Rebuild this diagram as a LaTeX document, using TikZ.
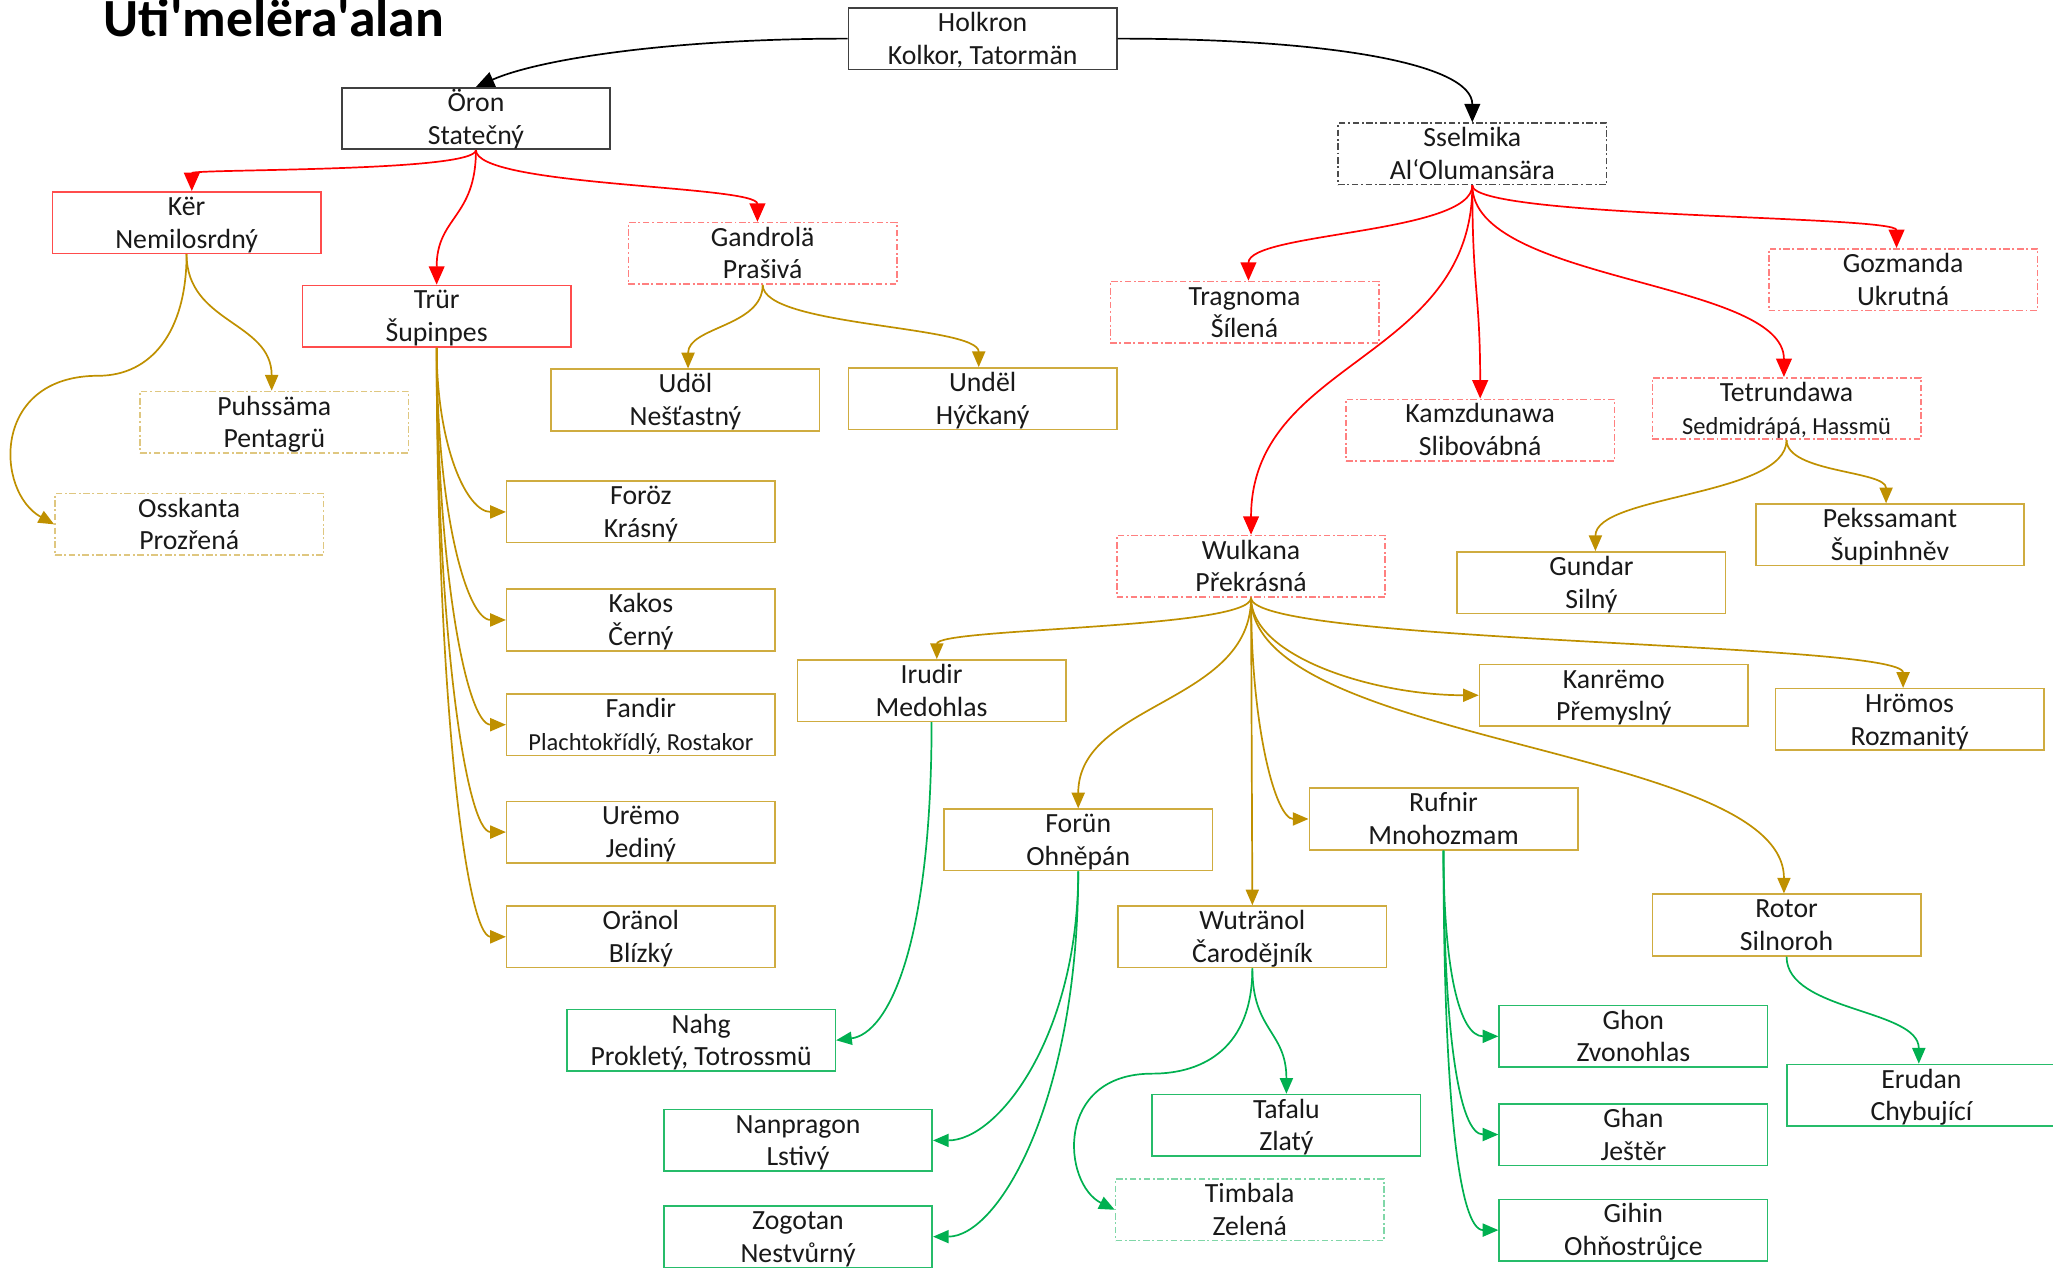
\documentclass[tikz,border=0pt]{standalone}
\usepackage{fontspec}
\setmainfont{Carlito}
\newfontfamily\titlefont{Carlito}
\usetikzlibrary{arrows.meta}
\definecolor{gold}{HTML}{BF9000}
\definecolor{grn}{HTML}{00B050}
\definecolor{rd}{HTML}{FF0000}
\newcommand\tl[2]{\rule{0pt}{20pt}#1\\#2\rule[-6pt]{0pt}{0pt}}
\newcommand\sm{\fontsize{18.7}{25}\selectfont}
\begin{document}
\begin{tikzpicture}[x=1pt,y=-1pt,
  box/.style={draw, rectangle, minimum width=205pt, minimum height=47pt, inner xsep=0pt, inner ysep=-3pt,
    align=center, line width=1.2pt, text=black!90, font=\fontsize{21.2}{25}\selectfont},
  dd/.style={dash pattern=on 5pt off 2pt on 1.5pt off 2pt},
  kbox/.style={box, draw=black!75},
  kdbox/.style={box, draw=black!70, dd},
  rbox/.style={box, draw=rd!70},
  rdbox/.style={box, draw=rd!50, dd},
  obox/.style={box, draw=gold!75},
  odbox/.style={box, draw=gold!50, dd},
  gbox/.style={box, draw=grn!85},
  gdbox/.style={box, draw=grn!50, dd},
  kline/.style={draw=black, line width=1.3pt, -{Triangle[length=14pt,width=12pt]}},
  rline/.style={draw=rd, line width=1.3pt, -{Triangle[length=14pt,width=12pt]}},
  oline/.style={draw=gold, line width=1.3pt, -{Triangle[length=12pt,width=10pt]}},
  gline/.style={draw=grn, line width=1.3pt, -{Triangle[length=12pt,width=10pt]}},
]
\useasboundingbox (0,0) rectangle (1568,968);

\node[anchor=base west, inner sep=0pt, font=\titlefont\bfseries\fontsize{41}{41}\selectfont] (title) at (79,28) {Uti'melëra'alan};

\node[kbox] (holk) at (750.5,29.5) {\tl{Holkron}{Kolkor, Tatormän}};
\node[kbox] (oron) at (363.5,90.5) {\tl{Öron}{Statečný}};
\node[kdbox] (ssel) at (1124.5,117.5) {\tl{Sselmika}{Al‘Olumansära}};
\node[rbox] (ker) at (142.5,170) {\tl{Kër}{Nemilosrdný}};
\node[rbox] (trur) at (333.5,241.5) {\tl{Trür}{Šupinpes}};
\node[rdbox] (gand) at (582.5,193.5) {\tl{Gandrolä}{Prašivá}};
\node[odbox] (puhs) at (209.5,322.5) {\tl{Puhssäma}{Pentagrü}};
\node[odbox] (ossk) at (144.5,400.5) {\tl{Osskanta}{Prozřená}};
\node[obox] (udol) at (523.5,305.5) {\tl{Udöl}{Nešťastný}};
\node[obox] (undel) at (750.5,304.5) {\tl{Undël}{Hýčkaný}};
\node[obox] (foroz) at (489.5,391) {\tl{Foröz}{Krásný}};
\node[obox] (kakos) at (489.5,473.5) {\tl{Kakos}{Černý}};
\node[obox] (fandir) at (489.5,553.5) {\tl{Fandir}{\sm Plachtokřídlý, Rostakor}};
\node[obox] (uremo) at (489.5,635.5) {\tl{Urëmo}{Jediný}};
\node[obox] (oranol) at (489.5,715.5) {\tl{Oränol}{Blízký}};
\node[rdbox] (trag) at (950.5,238.5) {\tl{Tragnoma}{Šílená}};
\node[rdbox] (gozm) at (1453.5,213.5) {\tl{Gozmanda}{Ukrutná}};
\node[rdbox] (kamz) at (1130.5,328.5) {\tl{Kamzdunawa}{Slibovábná}};
\node[rdbox] (tetr) at (1364.5,312) {\tl{Tetrundawa}{\sm Sedmidrápá, Hassmü}};
\node[rdbox] (wulk) at (955.5,432.5) {\tl{Wulkana}{Překrásná}};
\node[obox] (gund) at (1215.5,445) {\tl{Gundar}{Silný}};
\node[obox] (peks) at (1443.5,408.5) {\tl{Pekssamant}{Šupinhněv}};
\node[obox] (irud) at (711.5,527.5) {\tl{Irudir}{Medohlas}};
\node[obox] (kanr) at (1232.5,531) {\tl{Kanrëmo}{Přemyslný}};
\node[obox] (hrom) at (1458.5,549.5) {\tl{Hrömos}{Rozmanitý}};
\node[obox] (forun) at (823.5,641.5) {\tl{Forün}{Ohněpán}};
\node[obox] (rufn) at (1102.5,625.5) {\tl{Rufnir}{Mnohozmam}};
\node[obox] (wutr) at (956.5,715.5) {\tl{Wutränol}{Čarodějník}};
\node[obox] (rotor) at (1364.5,706.5) {\tl{Rotor}{Silnoroh}};
\node[gbox] (nahg) at (535.5,794.5) {\tl{Nahg}{Prokletý, Totrossmü}};
\node[gbox] (nanp) at (609.5,871) {\tl{Nanpragon}{Lstivý}};
\node[gbox] (zogo) at (609.5,944.5) {\tl{Zogotan}{Nestvůrný}};
\node[gbox] (tafa) at (982.5,859.5) {\tl{Tafalu}{Zlatý}};
\node[gdbox] (timb) at (954.5,924) {\tl{Timbala}{Zelená}};
\node[gbox] (ghon) at (1247.5,791.5) {\tl{Ghon}{Zvonohlas}};
\node[gbox] (ghan) at (1247.5,866.5) {\tl{Ghan}{Ještěr}};
\node[gbox] (gihin) at (1247.5,939.5) {\tl{Gihin}{Ohňostrůjce}};
\node[gbox] (erud) at (1467.5,836.5) {\tl{Erudan}{Chybující}};

% black
\draw[kline] (holk.west) .. controls +(-130,0) and +(50,-22) .. (oron.north);
\draw[kline] (holk.east) .. controls +(160,0) and +(0,-45) .. (ssel.north);
% red from Oron
\draw[rline] (oron.south) .. controls +(0,17) and +(0,-17) .. ([xshift=4pt]ker.north);
\draw[rline] (oron.south) .. controls +(0,52) and +(0,-52) .. (trur.north);
\draw[rline] (oron.south) .. controls +(0,28) and +(0,-28) .. ([xshift=-4pt]gand.north);
% from Ker
\draw[oline] (ker.south) .. controls +(0,53) and +(0,-53) .. ([xshift=-2pt]puhs.north);
\draw[oline] (ker.south) .. controls +(0,60) and +(40,0) .. (75,287) .. controls +(-82,0) and +(-45,-25) .. (ossk.west);
% from Gandrola
\draw[oline] (gand.south) .. controls +(0,32) and +(0,-32) .. ([xshift=2pt]udol.north);
\draw[oline] (gand.south) .. controls +(0,32) and +(0,-32) .. ([xshift=-3pt]undel.north);
% from Trur
\draw[oline] (trur.south) .. controls +(0,75) and +(-30,0) .. (foroz.west);
\draw[oline] (trur.south) .. controls +(0,125) and +(-30,0) .. (kakos.west);
\draw[oline] (trur.south) .. controls +(0,170) and +(-30,0) .. (fandir.west);
\draw[oline] (trur.south) .. controls +(0,220) and +(-30,0) .. (uremo.west);
\draw[oline] (trur.south) .. controls +(0,270) and +(-30,0) .. (oranol.west);
% red from Sselmika
\draw[rline] (ssel.south) .. controls +(0,37) and +(0,-37) .. ([xshift=3pt]trag.north);
\draw[rline] (ssel.south) .. controls +(0,25) and +(0,-25) .. ([xshift=-5pt]gozm.north);
\draw[rline] (ssel.south) .. controls +(0,80) and +(0,-80) .. (kamz.north);
\draw[rline] (ssel.south) .. controls +(0,74) and +(0,-74) .. ([xshift=-2pt]tetr.north);
\draw[rline] (ssel.south) .. controls +(0,134) and +(0,-134) .. (wulk.north);
% from Tetrundawa
\draw[oline] (tetr.south) .. controls +(0,43) and +(0,-43) .. ([xshift=3pt]gund.north);
\draw[oline] (tetr.south) .. controls +(0,25) and +(0,-25) .. ([xshift=-3pt]peks.north);
% from Wulkana
\draw[oline] (wulk.south) .. controls +(0,24) and +(0,-24) .. ([xshift=4pt]irud.north);
\draw[oline] (wulk.south) .. controls +(0,45) and +(-80,0) .. (kanr.west);
\draw[oline] (wulk.south) .. controls +(0,35) and +(0,-35) .. ([xshift=-5pt]hrom.north);
\draw[oline] (wulk.south) .. controls +(0,81) and +(0,-81) .. (forun.north);
\draw[oline] (wulk.south) .. controls +(0,100) and +(-25,0) .. (rufn.west);
\draw[oline] (wulk.south) -- (wutr.north);
\draw[oline] (wulk.south) .. controls +(0,113) and +(0,-113) .. ([xshift=-2pt]rotor.north);
% green
\draw[gline] (irud.south) .. controls +(0,170) and +(40,-5) .. (nahg.east);
\draw[gline] (forun.south) .. controls +(0,125) and +(50,0) .. (nanp.east);
\draw[gline] (forun.south) .. controls +(0,175) and +(50,0) .. (zogo.east);
\draw[gline] (wutr.south) .. controls +(0,48) and +(0,-48) .. (tafa.north);
\draw[gline] (wutr.south) .. controls +(0,60) and +(40,0) .. (880,820) .. controls +(-75,0) and +(-40,-20) .. (timb.west);
\draw[gline] (rufn.south) .. controls +(0,90) and +(-30,0) .. (ghon.west);
\draw[gline] (rufn.south) .. controls +(0,140) and +(-30,0) .. (ghan.west);
\draw[gline] (rufn.south) .. controls +(0,190) and +(-30,0) .. (gihin.west);
\draw[gline] (rotor.south) .. controls +(0,42) and +(0,-42) .. ([xshift=-2pt]erud.north);
\end{tikzpicture}
\end{document}
